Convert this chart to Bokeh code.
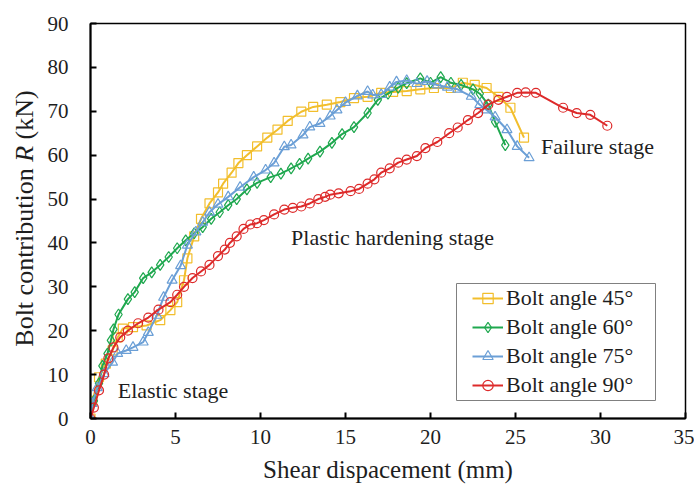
from bokeh.plotting import figure
from bokeh.models import Range1d, Label, Legend, LegendItem, FixedTicker, BoxAnnotation, ColumnDataSource
from bokeh.layouts import row
from bokeh.core.properties import value
from bokeh.embed import file_html
from bokeh.resources import INLINE
import math

# ---- data ----
x45 = [0, 0.1, 0.5, 0.9, 1.3, 1.6, 1.9, 2.5, 3.3, 4.1, 4.7, 5.1, 5.5, 5.7, 6.1, 6.5, 7.0, 7.5, 7.8, 8.3,
       8.7, 9.2, 9.8, 10.4, 11.0, 11.6, 12.4, 13.1, 13.9, 14.7, 15.5, 16.3, 17.1, 17.8, 18.6, 19.4, 20.2,
       21.2, 21.9, 22.6, 23.3, 24.0, 24.7, 25.5]
y45 = [0, 4, 9.4, 12.5, 15.5, 18.5, 20.5, 20.8, 21.2, 22.4, 24.7, 26.5, 31.5, 36.5, 41.5, 45.5, 49, 51.5, 53.5, 56,
       58.2, 60, 62, 64, 65.8, 67.8, 69.9, 71, 71.5, 72.1, 73, 73.3, 74.2, 74.4, 74.6, 75, 75.3,
       75.3, 76.5, 76, 75.3, 73.3, 70.8, 64]

x60 = [0, 0.2, 0.5, 0.7, 1.0, 1.2, 1.35, 1.65, 2.2, 2.6, 3.1, 3.6, 4.1, 4.6, 5.1, 5.6, 6.1, 6.6, 7.1, 7.6,
       8.1, 8.6, 9.2, 9.8, 10.6, 11.2, 11.8, 12.3, 12.8, 13.5, 14.2, 14.8, 15.5, 16.3, 16.9, 17.5, 18.1,
       18.6, 19.4, 20.0, 20.6, 21.2, 21.8, 22.5, 22.9, 23.4, 23.8, 24.4]
y60 = [0, 4, 8, 12, 14.8, 17.8, 20.3, 23.7, 27.2, 28.8, 32, 33.3, 35, 36.8, 38.8, 40.6, 42.2, 43.6, 45.5, 47,
       48.6, 50, 52.2, 53.7, 55, 55.8, 57, 58, 59.2, 60.8, 62.8, 64.8, 66.4, 69.6, 72.6, 74, 75.4,
       76.4, 77.5, 76.5, 77.8, 76.5, 76, 75, 74, 71.5, 67.6, 62.3]

x75 = [0, 0.1, 0.4, 0.8, 1.3, 1.6, 2.1, 2.5, 3.1, 3.4, 3.9, 4.3, 4.8, 5.3, 5.7, 6.2, 6.6, 7.0, 7.5, 8.1,
       8.8, 9.6, 10.3, 10.8, 11.4, 11.8, 12.5, 12.9, 13.5, 14.1, 14.5, 15.0, 15.7, 16.3, 16.6, 17.1, 17.6,
       18.0, 18.6, 19.2, 19.8, 20.4, 21.0, 21.6, 22.4, 22.9, 23.3, 23.8, 24.5, 25.1, 25.8]
y75 = [0, 3.4, 7, 10.2, 12.8, 14.8, 15.5, 16.2, 17.4, 19.6, 23.5, 27.6, 31.5, 34.8, 39.5, 42.5, 44.7, 47, 48.8, 50.5,
       52.7, 55, 56.6, 58.2, 61.9, 62.3, 64.6, 66.4, 67.2, 68.9, 70.3, 72, 73.5, 74.5, 73.7, 73.8, 75.5,
       76.7, 77, 76.3, 76.8, 76, 75.5, 75, 73.4, 71.5, 70.3, 68.7, 65.8, 62, 59.4]

x90 = [0, 0.2, 0.5, 0.8, 1.05, 1.35, 1.75, 2.2, 2.8, 3.4, 4.0, 4.7, 5.1, 5.5, 6.0, 6.5, 7.0, 7.5, 7.9, 8.2,
       8.6, 9.0, 9.4, 9.8, 10.2, 10.8, 11.4, 11.9, 12.4, 12.9, 13.4, 13.8, 14.1, 14.6, 15.3, 15.8, 16.3,
       16.7, 17.1, 17.6, 18.1, 18.6, 19.2, 19.7, 20.4, 21.1, 21.6, 22.2, 22.8, 23.4, 24.0, 24.5, 25.1,
       25.6, 26.2, 27.8, 28.6, 29.4, 30.4]
y90 = [0, 2.5, 6.4, 10, 13.7, 16.2, 18.5, 20, 21.7, 23, 24.8, 26.5, 28.2, 30, 32, 33.5, 35, 37, 38.5, 40,
       41.5, 43.2, 44.2, 44.5, 45.2, 46.5, 47.6, 48, 48.3, 49, 50, 50.5, 51, 51.3, 51.8, 52.3, 53.5,
       54.5, 56, 57, 58.3, 59, 59.8, 61.6, 63, 65, 66.3, 68, 69.6, 71.5, 72.6, 73.3, 74.2,
       74.3, 74.2, 70.8, 69.6, 69.2, 66.7]

series_labels = ["Bolt angle 45°", "Bolt angle 60°", "Bolt angle 75°", "Bolt angle 90°"]
x_ticks = [0, 5, 10, 15, 20, 25, 30, 35]
y_ticks = [0, 10, 20, 30, 40, 50, 60, 70, 80, 90]
x_title = "Shear dispacement (mm)"
y_title_parts = ["Bolt contribution", "R", "(kN)"]

FONT = "'Liberation Serif', 'Times New Roman', serif"
TXT = "#1e1e1e"

W, H = 694, 486
LW = 40             # width of the strip that carries the y-axis title
FL, FB, FT = 90, 418, 23    # frame left / bottom / top in page pixels

# ---------------- main chart ----------------
p = figure(width=W - LW, height=H, output_backend="svg", toolbar_location=None,
           x_range=Range1d(0, 35), y_range=Range1d(0, 90),
           min_border_left=FL - LW, min_border_right=9, min_border_top=FT, min_border_bottom=H - FB)
p.grid.visible = False
p.outline_line_color = "black"
p.outline_line_width = 1.5
p.background_fill_color = "white"
p.border_fill_color = "white"

for ax in (p.xaxis[0], p.yaxis[0]):
    ax.axis_line_color = "black"
    ax.axis_line_width = 2
    ax.major_tick_in = 6
    ax.major_tick_out = 0
    ax.major_tick_line_color = "black"
    ax.major_tick_line_width = 2
    ax.minor_tick_line_color = None
    ax.major_label_text_font = FONT
    ax.major_label_text_font_size = "21px"
    ax.major_label_text_color = TXT

p.xaxis.ticker = FixedTicker(ticks=x_ticks)
p.yaxis.ticker = FixedTicker(ticks=y_ticks)
p.xaxis.major_label_standoff = 11
p.yaxis.major_label_standoff = 22
p.xaxis.axis_label = x_title
p.xaxis.axis_label_text_font = FONT
p.xaxis.axis_label_text_font_style = "normal"
p.xaxis.axis_label_text_font_size = "25px"
p.xaxis.axis_label_text_color = TXT
p.xaxis.axis_label_standoff = 9

c45, c60, c75, c90 = "#F2BE2C", "#1FA84F", "#6B9FD6", "#DD2A2A"

# legend frame box (drawn first, under the legend entries)
p.add_layout(BoxAnnotation(left=456 - FL, right=655 - FL, bottom=FB - 400, top=FB - 283,
                           left_units="screen", right_units="screen",
                           bottom_units="screen", top_units="screen",
                           fill_color="white", fill_alpha=1.0,
                           line_color="#808080", line_width=1, line_alpha=1.0))

items = []
specs = [
    (x45, y45, c45, "square", 9),
    (x60, y60, c60, "diamond", 11),
    (x75, y75, c75, "triangle", 10),
    (x90, y90, c90, "circle", 9),
]
for (xs, ys, col, mk, sz), lab in zip(specs, series_labels):
    r1 = p.line(xs, ys, line_color=col, line_width=2)
    r2 = p.scatter(xs, ys, marker=mk, size=sz, line_color=col, fill_color=None, line_width=1.2)
    items.append(LegendItem(label=lab, renderers=[r1, r2]))

legend = Legend(items=items, location=(472 - FL, FB - 398))
legend.label_text_font = FONT
legend.label_text_font_size = "22px"
legend.label_text_color = TXT
legend.glyph_width = 31
legend.glyph_height = 26
legend.label_height = 26
legend.spacing = 3
legend.padding = 0
legend.margin = 0
legend.label_standoff = 3
legend.border_line_color = None
legend.background_fill_alpha = 0
p.add_layout(legend)

for txt, xx, yy in [("Elastic stage", 1.6, 6.4), ("Plastic hardening stage", 11.8, 41.3), ("Failure stage", 26.5, 62)]:
    p.add_layout(Label(x=xx, y=yy, text=txt, text_font=FONT, text_font_size="22px",
                       text_baseline="middle", text_align="left", text_color=TXT))

# ---------------- strip with the y-axis title (italic R) ----------------
# the row aligns this strip's frame with the chart's frame (page rows FT..FB),
# so its y range is expressed in page pixels counted from the bottom
q = figure(width=LW, height=H, output_backend="svg", toolbar_location=None,
           x_range=Range1d(0, LW), y_range=Range1d(H - FB, H - FT),
           x_axis_type=None, y_axis_type=None,
           min_border=0, min_border_left=0, min_border_right=0, min_border_top=FT, min_border_bottom=H - FB)
q.grid.visible = False
q.outline_line_color = None
q.background_fill_color = "white"
q.border_fill_color = "white"

TFS = 26
em = TFS
w1 = (6.862 + 0.25) * em
w2 = (0.611 + 0.25) * em
w3 = 1.888 * em
total = w1 + w2 + w3
center_py = 218
start_y = H - (center_py + total / 2)
src = ColumnDataSource(dict(
    x=[24, 24, 24],
    y=[start_y, start_y + w1, start_y + w1 + w2],
    text=y_title_parts,
    style=["normal", "italic", "normal"],
))
q.text(x="x", y="y", text="text", source=src, angle=math.pi / 2,
       text_font=value(FONT), text_font_size=value(f"{TFS}px"), text_font_style="style",
       text_baseline="middle", text_align="left", text_color=TXT)

layout = row(q, p, spacing=0)
open("out.html", "w").write(file_html(layout, INLINE))
